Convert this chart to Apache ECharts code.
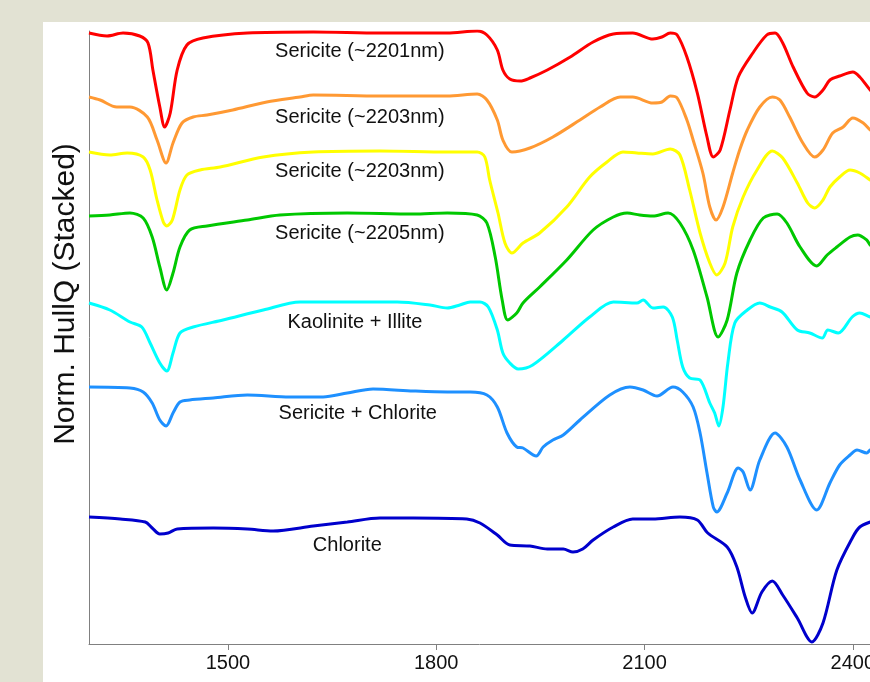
<!DOCTYPE html>
<html>
<head>
<meta charset="utf-8">
<script src="https://cdn.jsdelivr.net/npm/echarts@6/dist/echarts.min.js"></script>
<style>
html,body{margin:0;padding:0;background:#e2e2d3;}
#chart{width:870px;height:682px;}
</style>
</head>
<body>
<div id="chart"></div>
<script>
// Wavelength (nm) ticks
var xTicks = [1500, 1800, 2100, 2400];

// Stacked normalized hull quotient spectra: [wavelength nm, stacked value]
var sericite2201 = [[1300,6.11],[1326,6.08],[1349,6.11],[1373,6.08],[1385,6.01],[1392,5.74],[1402,5.37],[1409,5.17],[1417,5.31],[1427,5.74],[1441,5.99],[1464,6.06],[1528,6.11],[1623,6.12],[1719,6.11],[1816,6.11],[1859,6.13],[1873,6.09],[1888,5.94],[1896,5.74],[1906,5.65],[1921,5.63],[1935,5.66],[1960,5.74],[1993,5.87],[2026,6.02],[2055,6.10],[2083,6.11],[2112,6.05],[2125,6.07],[2137,6.11],[2147,6.09],[2161,5.87],[2176,5.51],[2190,5.07],[2199,4.87],[2209,4.94],[2223,5.34],[2235,5.67],[2256,5.91],[2276,6.09],[2288,6.11],[2299,6.01],[2314,5.77],[2334,5.51],[2345,5.47],[2357,5.54],[2367,5.64],[2381,5.68],[2400,5.72],[2410,5.67],[2425,5.54],[2440,5.44]];

var sericite2203a = [[1300,5.47],[1316,5.44],[1340,5.37],[1359,5.37],[1384,5.27],[1398,5.04],[1411,4.81],[1421,5.01],[1434,5.21],[1450,5.27],[1470,5.29],[1507,5.34],[1556,5.42],[1604,5.47],[1623,5.49],[1719,5.48],[1816,5.48],[1859,5.50],[1873,5.44],[1888,5.24],[1896,5.04],[1909,4.92],[1935,4.96],[1968,5.07],[2007,5.24],[2036,5.37],[2065,5.47],[2083,5.47],[2112,5.41],[2125,5.42],[2137,5.48],[2147,5.46],[2161,5.24],[2170,5.04],[2184,4.71],[2194,4.37],[2203,4.24],[2213,4.37],[2227,4.71],[2237,4.94],[2248,5.14],[2266,5.37],[2284,5.47],[2295,5.44],[2309,5.27],[2328,5.01],[2345,4.87],[2357,4.94],[2371,5.11],[2386,5.17],[2400,5.26],[2415,5.21],[2425,5.14],[2440,5.05]];

var sericite2203b = [[1300,4.92],[1330,4.89],[1355,4.91],[1378,4.87],[1388,4.74],[1398,4.44],[1407,4.22],[1412,4.18],[1420,4.24],[1431,4.54],[1441,4.69],[1460,4.74],[1489,4.77],[1551,4.87],[1623,4.92],[1719,4.93],[1816,4.92],[1859,4.92],[1870,4.87],[1877,4.64],[1889,4.31],[1899,4.01],[1909,3.91],[1925,4.01],[1949,4.11],[1988,4.37],[2021,4.67],[2046,4.82],[2069,4.92],[2089,4.91],[2112,4.90],[2137,4.95],[2151,4.89],[2165,4.54],[2180,4.11],[2194,3.81],[2204,3.69],[2216,3.81],[2227,4.17],[2242,4.47],[2262,4.74],[2284,4.93],[2299,4.86],[2320,4.61],[2335,4.41],[2345,4.36],[2357,4.44],[2367,4.57],[2381,4.67],[2396,4.74],[2410,4.71],[2425,4.64],[2440,4.57]];

var sericite2205 = [[1300,4.28],[1330,4.29],[1359,4.31],[1378,4.26],[1391,4.07],[1402,3.77],[1412,3.54],[1421,3.71],[1431,3.97],[1445,4.14],[1470,4.18],[1528,4.24],[1575,4.29],[1672,4.31],[1767,4.30],[1816,4.31],[1859,4.29],[1873,4.21],[1885,3.87],[1895,3.44],[1903,3.24],[1916,3.31],[1925,3.41],[1949,3.57],[1988,3.84],[2026,4.14],[2055,4.27],[2075,4.31],[2093,4.29],[2112,4.28],[2134,4.31],[2151,4.21],[2170,3.94],[2190,3.47],[2206,3.07],[2219,3.24],[2233,3.71],[2252,4.04],[2271,4.26],[2291,4.30],[2305,4.21],[2324,3.97],[2348,3.78],[2363,3.89],[2377,3.97],[2396,4.07],[2407,4.09],[2420,4.04],[2425,3.99],[2440,3.92]];

var kaoliniteIllite = [[1300,3.41],[1330,3.34],[1359,3.22],[1376,3.17],[1388,3.01],[1402,2.81],[1412,2.73],[1421,2.91],[1431,3.11],[1450,3.17],[1493,3.24],[1551,3.34],[1604,3.42],[1672,3.42],[1744,3.42],[1791,3.39],[1816,3.36],[1834,3.39],[1849,3.42],[1863,3.42],[1875,3.37],[1888,3.14],[1896,2.91],[1906,2.81],[1918,2.75],[1939,2.79],[1983,3.04],[2021,3.27],[2055,3.42],[2089,3.41],[2098,3.44],[2112,3.36],[2127,3.37],[2140,3.27],[2147,3.04],[2155,2.77],[2165,2.66],[2180,2.64],[2194,2.41],[2201,2.31],[2207,2.18],[2213,2.37],[2220,2.81],[2230,3.21],[2248,3.34],[2266,3.41],[2281,3.37],[2298,3.32],[2320,3.14],[2338,3.11],[2356,3.06],[2364,3.14],[2379,3.11],[2399,3.27],[2410,3.31],[2425,3.27],[2440,3.25]];

var sericiteChlorite = [[1300,2.57],[1359,2.56],[1378,2.52],[1391,2.41],[1402,2.24],[1411,2.18],[1421,2.31],[1431,2.42],[1445,2.44],[1479,2.46],[1528,2.49],[1589,2.47],[1637,2.47],[1672,2.51],[1709,2.55],[1767,2.53],[1816,2.52],[1849,2.52],[1873,2.49],[1888,2.37],[1902,2.11],[1916,1.97],[1925,1.96],[1944,1.88],[1954,1.97],[1968,2.04],[1983,2.09],[2007,2.24],[2050,2.49],[2079,2.57],[2098,2.54],[2118,2.48],[2141,2.57],[2155,2.52],[2170,2.37],[2180,2.11],[2190,1.71],[2199,1.37],[2204,1.32],[2219,1.51],[2235,1.76],[2242,1.72],[2252,1.54],[2266,1.84],[2288,2.11],[2305,1.97],[2324,1.64],[2348,1.34],[2367,1.61],[2381,1.79],[2396,1.89],[2406,1.94],[2420,1.91],[2425,1.94],[2440,1.97]];

var chlorite = [[1300,1.27],[1345,1.25],[1381,1.22],[1391,1.16],[1402,1.10],[1414,1.11],[1427,1.15],[1479,1.16],[1528,1.15],[1565,1.13],[1623,1.18],[1672,1.22],[1719,1.26],[1767,1.26],[1844,1.25],[1863,1.21],[1888,1.09],[1906,0.99],[1935,0.98],[1960,0.95],[1983,0.95],[1997,0.92],[2011,0.95],[2026,1.04],[2055,1.17],[2083,1.25],[2112,1.25],[2151,1.27],[2176,1.24],[2191,1.11],[2219,0.97],[2233,0.77],[2245,0.47],[2255,0.31],[2269,0.52],[2284,0.63],[2299,0.49],[2320,0.26],[2341,0.02],[2357,0.21],[2377,0.74],[2400,1.07],[2410,1.17],[2425,1.22],[2440,1.25]];

// Curve annotations: text, wavelength, stacked value
var labelTexts = ['Sericite (~2201nm)','Sericite (~2203nm)','Sericite (~2203nm)','Sericite (~2205nm)','Kaolinite + Illite','Sericite + Chlorite','Chlorite'];
var labelWl = [1690, 1690, 1690, 1690, 1683, 1687, 1672];
var labelVal = [5.93, 5.27, 4.73, 4.11, 3.22, 2.31, 0.99];

var yTitle = 'Norm. HullQ (Stacked)';

var spectra = [
  {name: labelTexts[0], data: sericite2201, color: '#ff0000'},
  {name: labelTexts[1], data: sericite2203a, color: '#ff9933'},
  {name: labelTexts[2], data: sericite2203b, color: '#ffff00'},
  {name: labelTexts[3], data: sericite2205, color: '#00c800'},
  {name: labelTexts[4], data: kaoliniteIllite, color: '#00ffff'},
  {name: labelTexts[5], data: sericiteChlorite, color: '#1e90ff'},
  {name: labelTexts[6], data: chlorite, color: '#0000cc'}
];

var FONT = '"Liberation Sans", Arial, Helvetica, sans-serif';

var series = spectra.map(function (s) {
  return {
    type: 'line',
    name: s.name,
    data: s.data,
    showSymbol: false,
    symbol: 'none',
    smooth: 0.3,
    lineStyle: {color: s.color, width: 3},
    itemStyle: {color: s.color},
    silent: true,
    animation: false
  };
});

series.push({
  type: 'scatter',
  data: labelTexts.map(function (t, i) { return [labelWl[i], labelVal[i], t]; }),
  symbolSize: 0,
  silent: true,
  animation: false,
  itemStyle: {opacity: 1},
  label: {
    show: true,
    position: 'inside',
    formatter: function (p) { return p.data[2]; },
    fontFamily: FONT,
    fontSize: 20,
    color: '#111111'
  },
  z: 10
});

var chart = echarts.init(document.getElementById('chart'), null, {renderer: 'canvas'});
chart.setOption({
  backgroundColor: '#e2e2d3',
  animation: false,
  graphic: [
    {type: 'rect', z: -100, shape: {x: 43, y: 22, width: 900, height: 700}, style: {fill: '#ffffff'}, silent: true},
    {type: 'text', z: 100, x: 66, y: 294, rotation: Math.PI / 2,
     style: {text: yTitle, font: '30px ' + FONT, fill: '#111111', textAlign: 'center', textVerticalAlign: 'middle'}}
  ],
  grid: {left: 89, top: 31, bottom: 38, right: 0, containLabel: false, outerBoundsMode: 'none'},
  xAxis: {
    type: 'value',
    min: 1300,
    max: 2424.7,
    axisLine: {show: true, lineStyle: {color: '#808080', width: 1}},
    axisTick: {show: true, customValues: xTicks, length: 6, lineStyle: {color: '#808080'}},
    axisLabel: {show: true, customValues: xTicks, fontFamily: FONT, fontSize: 20, color: '#111111', margin: 9,
                formatter: function (v) { return String(v); }},
    splitLine: {show: false}
  },
  yAxis: {
    type: 'value',
    min: 0,
    max: 6.13,
    axisLine: {show: true, lineStyle: {color: '#808080', width: 1}},
    axisTick: {show: false},
    axisLabel: {show: false},
    splitLine: {show: false}
  },
  series: series
});
</script>
</body>
</html>
